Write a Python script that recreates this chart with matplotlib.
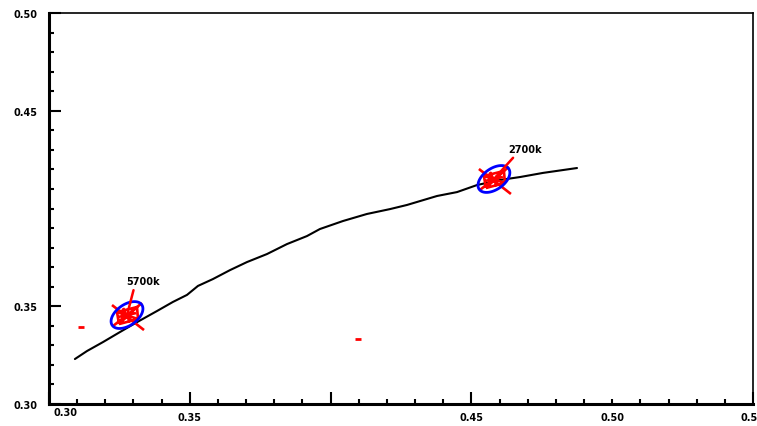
import numpy as np
import matplotlib
matplotlib.use("Agg")
import matplotlib.pyplot as plt
from matplotlib.path import Path
from matplotlib.patches import PathPatch
from matplotlib.transforms import Affine2D, ScaledTranslation

# ---- data ----
locus_x = [0.3092, 0.3135, 0.3192, 0.3252, 0.3313, 0.3384, 0.3440, 0.3490, 0.3529,
           0.3582, 0.3643, 0.3703, 0.3774, 0.3845, 0.3916, 0.3962, 0.4044, 0.4129,
           0.4211, 0.4271, 0.4378, 0.4449, 0.4520, 0.4602, 0.4673, 0.4754, 0.4875]
locus_y = [0.3230, 0.3271, 0.3317, 0.3368, 0.3419, 0.3476, 0.3522, 0.3558, 0.3604,
           0.3639, 0.3685, 0.3726, 0.3767, 0.3818, 0.3859, 0.3895, 0.3936, 0.3972,
           0.3997, 0.4018, 0.4064, 0.4084, 0.4120, 0.4146, 0.4161, 0.4182, 0.4207]

cct_labels = ["5700k", "2700k"]
cct_x = [0.3277, 0.4580]
cct_y = [0.3455, 0.4151]

stray_x = [0.3114, 0.4097]
stray_y = [0.3394, 0.3332]

xtick_vals = [0.30, 0.35, 0.40, 0.45, 0.50, 0.55]
xtick_labels = ["0.30", "0.35", "", "0.45", "0.50", "0.55"]
ytick_vals = [0.30, 0.35, 0.40, 0.45, 0.50]
ytick_labels = ["0.30", "0.35", "", "0.45", "0.50"]

# ---- figure ----
W, H, DPI = 757, 427, 100
fig = plt.figure(figsize=(W / DPI, H / DPI), dpi=DPI)
ax = fig.add_axes([49 / W, (H - 405) / H, (753 - 49) / W, (405 - 14) / H])
ax.set_xlim(0.30, 0.55)
ax.set_ylim(0.30, 0.50)

ax.plot(locus_x, locus_y, color="black", lw=1.5, solid_capstyle="round", zorder=2)

# stray red dashes
ax.plot(stray_x, stray_y, ls="none", marker="_", ms=5, mew=2, color="red", zorder=3)

# shapes in reference-pixel units (y up)
theta = np.linspace(0, 2 * np.pi, 80)
ang = np.deg2rad(35)
ea, eb = 18.0, 10.5
ell = np.column_stack([ea * np.cos(theta) * np.cos(ang) - eb * np.sin(theta) * np.sin(ang),
                       ea * np.cos(theta) * np.sin(ang) + eb * np.sin(theta) * np.cos(ang)])
ell_path = Path(ell, closed=True)

red_segs = [((-15, 10), (17, -15)),
            ((-14, -11), (15, 12)),
            ((-10, 3), (10, 8)), ((10, 8), (11, -4)), ((11, -4), (-8, -9)), ((-8, -9), (-10, 3)),
            ((-10, 3), (11, -4)), ((10, 8), (-8, -9)),
            ((-9, -2), (9, 2)), ((-4, 7), (3, -7))]
verts, codes = [], []
for a, b in red_segs:
    verts += [a, b]
    codes += [Path.MOVETO, Path.LINETO]
red_path = Path(verts, codes)

label_off = [(16, 34), (31, 30)]
for i in range(len(cct_x)):
    tr = Affine2D().scale(1 / DPI) + fig.dpi_scale_trans + \
        ScaledTranslation(cct_x[i], cct_y[i], ax.transData)
    ax.add_patch(PathPatch(red_path, transform=tr, fill=False, edgecolor="red",
                           lw=1.9, zorder=4))
    ax.add_patch(PathPatch(ell_path, transform=tr, fill=False, edgecolor="blue",
                           lw=2.0, zorder=5))
    ox, oy = label_off[i]
    ax.annotate(cct_labels[i], xy=(cct_x[i], cct_y[i]),
                xytext=(ox * 0.72, oy * 0.72), textcoords="offset points",
                ha="center", va="center", fontsize=7, fontweight="bold",
                arrowprops=dict(arrowstyle="-", color="red", lw=1.8,
                                shrinkA=1, shrinkB=2, relpos=(0.25, 0.0)),
                zorder=6)

# ---- axes styling ----
for side in ["left", "bottom"]:
    ax.spines[side].set_linewidth(2.2)
for side in ["top", "right"]:
    ax.spines[side].set_linewidth(1.2)

ax.set_xticks(xtick_vals)
ax.set_xticklabels(xtick_labels)
ax.set_yticks(ytick_vals)
ax.set_yticklabels(ytick_labels)
ax.set_xticks(np.arange(0.30, 0.5501, 0.01), minor=True)
ax.set_yticks(np.arange(0.30, 0.5001, 0.01), minor=True)
ax.tick_params(which="both", direction="in", top=False, right=False, width=1.5)
ax.tick_params(which="major", length=8.5, labelsize=7, pad=6)
ax.tick_params(which="minor", length=3.5)
ax.tick_params(axis="y", which="major", pad=8)
for lab in ax.get_xticklabels() + ax.get_yticklabels():
    lab.set_fontweight("bold")

# short ticks at unlabeled/edge positions
for t, v in zip(ax.xaxis.get_major_ticks(), xtick_vals):
    if v in (0.50,):
        t.tick1line.set_markersize(3.5)
for t, v in zip(ax.yaxis.get_major_ticks(), ytick_vals):
    if v in (0.40,):
        t.tick1line.set_markersize(3.5)

fig.canvas.draw()
xl = ax.get_xticklabels()
xl[0].set_transform(xl[0].get_transform() + ScaledTranslation(16 / DPI, 5 / DPI, fig.dpi_scale_trans))

fig.savefig("out.png", dpi=DPI)
